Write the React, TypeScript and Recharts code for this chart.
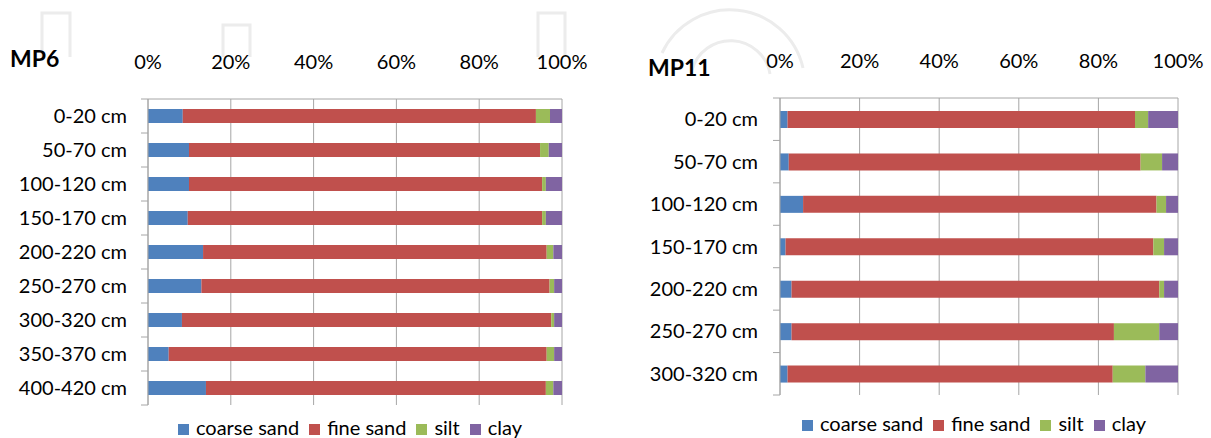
import React from "react";
import { Bar, BarChart, CartesianGrid, Legend, XAxis, YAxis } from "recharts";

const seriesKeys = ["coarse", "fine", "silt", "clay"];
const seriesNames = ["coarse sand", "fine sand", "silt", "clay"];
const seriesColors = ["#4F81BD", "#C0504D", "#9BBB59", "#8064A2"];
const percentTicks = [0, 0.2, 0.4, 0.6, 0.8, 1];

const mp6Depths = ["0-20 cm", "50-70 cm", "100-120 cm", "150-170 cm", "200-220 cm", "250-270 cm", "300-320 cm", "350-370 cm", "400-420 cm"];
const mp6Coarse = [8.4, 9.9, 9.9, 9.6, 13.3, 12.9, 8.2, 5.0, 14.0];
const mp6Fine = [85.3, 84.8, 85.3, 85.6, 83.0, 84.1, 89.2, 91.3, 82.1];
const mp6Silt = [3.4, 2.1, 0.9, 0.9, 1.6, 1.1, 0.7, 1.8, 1.8];
const mp6Clay = [2.9, 3.2, 3.9, 3.9, 2.1, 1.9, 1.9, 1.9, 2.1];

const mp11Depths = ["0-20 cm", "50-70 cm", "100-120 cm", "150-170 cm", "200-220 cm", "250-270 cm", "300-320 cm"];
const mp11Coarse = [1.9, 2.2, 5.8, 1.4, 2.9, 2.9, 1.9];
const mp11Fine = [87.3, 88.4, 88.8, 92.4, 92.4, 81.0, 81.7];
const mp11Silt = [3.3, 5.4, 2.4, 2.7, 1.2, 11.4, 8.2];
const mp11Clay = [7.5, 4.0, 3.0, 3.5, 3.5, 4.7, 8.2];

const FONT = "Lato, 'Noto Sans', sans-serif";
const GRID = "#a6a6a6";
const TEXT = "#000";

const toRows = (depths: string[], cols: number[][]) =>
  depths.map((depth, i) => {
    const row: Record<string, string | number> = { depth };
    seriesKeys.forEach((k, j) => (row[k] = cols[j][i]));
    return row;
  });

type PanelProps = {
  depths: string[];
  cols: number[][];
  width: number;
  axisWidth: number;
  plotTop: number;
  plotBottom: number;
  marginRight: number;
  barSize: number;
  labelGap: number;
  legendBottom: number;
};

const HEIGHT = 438;
const LEGEND_H = 24;
const XAXIS_H = 40;

function SoilPanel({ depths, cols, width, axisWidth, plotTop, plotBottom, marginRight, barSize, labelGap, legendBottom }: PanelProps) {
  const data = toRows(depths, cols);
  const band = (plotBottom - plotTop) / depths.length;
  const plotWidth = width - axisWidth - marginRight;

  // excel-style category ticks sit on the band edges, not the centres
  const DepthTick = (props: any) => {
    const { x, y, payload, index } = props;
    const half = band / 2;
    return (
      <g>
        <text x={x - labelGap} y={y} dy="0.35em" textAnchor="end" fill={TEXT} fontSize={20} fontFamily={FONT}>
          {payload.value}
        </text>
        <line x1={x - 7} x2={x} y1={y + half} y2={y + half} stroke={GRID} />
        {index === 0 && <line x1={x - 7} x2={x} y1={y - half} y2={y - half} stroke={GRID} />}
      </g>
    );
  };

  return (
    <BarChart
      width={width}
      height={HEIGHT}
      data={data}
      layout="vertical"
      stackOffset="expand"
      barSize={barSize}
      margin={{ top: plotTop - XAXIS_H, right: marginRight, left: 0, bottom: HEIGHT - plotBottom - LEGEND_H }}
    >
      <CartesianGrid horizontal={false} stroke={GRID} />
      <XAxis
        type="number"
        orientation="top"
        domain={[0, 1]}
        ticks={percentTicks}
        height={XAXIS_H}
        tickFormatter={(v: number) => `${Math.round(v * 100)}%`}
        axisLine={{ stroke: GRID }}
        tickLine={false}
        tickSize={0}
        tickMargin={30}
        tick={{ fill: TEXT, fontSize: 20, fontFamily: FONT }}
        interval={0}
      />
      <YAxis
        type="category"
        dataKey="depth"
        width={axisWidth}
        axisLine={{ stroke: GRID }}
        tickLine={false}
        tickSize={0}
        tickMargin={0}
        tick={DepthTick}
        interval={0}
      />
      <Legend
        verticalAlign="bottom"
        align="center"
        iconType="square"
        iconSize={11}
        itemSorter={(item: any) => seriesNames.indexOf(item.value)}
        wrapperStyle={{
          left: axisWidth,
          width: plotWidth,
          bottom: legendBottom,
          height: LEGEND_H,
          lineHeight: `${LEGEND_H}px`,
          fontSize: 20,
          fontFamily: FONT,
        }}
        formatter={(value: string) => <span style={{ color: TEXT, marginLeft: 3 }}>{value}</span>}
      />
      {seriesKeys.map((k, i) => (
        <Bar key={k} dataKey={k} name={seriesNames[i]} stackId="a" fill={seriesColors[i]} isAnimationActive={false} />
      ))}
    </BarChart>
  );
}

export default function App() {
  return (
    <div style={{ position: "absolute", left: 0, top: 0, width: 1211, height: HEIGHT, background: "#fff", overflow: "hidden" }}>
      <svg width={1211} height={HEIGHT} style={{ position: "absolute", left: 0, top: 0 }}>
        <g fill="none" stroke="#ececec" strokeWidth={3}>
          <path d="M42,57 V13 H70 V57" />
          <path d="M223,57 V25 H250 V57" />
          <path d="M538,57 V13 H565 V57" />
          <path d="M662,53 A75,75 0 0 1 803,68" />
          <path d="M692,70 A40,40 0 0 1 770,74" />
        </g>
        <text x={10} y={67} fontFamily={FONT} fontWeight={700} fontSize={23} fill={TEXT}>MP6</text>
        <text x={648} y={76} fontFamily={FONT} fontWeight={700} fontSize={23} fill={TEXT}>MP11</text>
      </svg>
      <div style={{ position: "absolute", left: 0, top: 0 }}>
        <SoilPanel
          depths={mp6Depths}
          cols={[mp6Coarse, mp6Fine, mp6Silt, mp6Clay]}
          width={600}
          axisWidth={148}
          plotTop={99}
          plotBottom={405}
          marginRight={38}
          barSize={14}
          labelGap={21}
          legendBottom={-1}
        />
      </div>
      <div style={{ position: "absolute", left: 620, top: 0 }}>
        <SoilPanel
          depths={mp11Depths}
          cols={[mp11Coarse, mp11Fine, mp11Silt, mp11Clay]}
          width={591}
          axisWidth={160}
          plotTop={98}
          plotBottom={395}
          marginRight={33}
          barSize={17}
          labelGap={22}
          legendBottom={3}
        />
      </div>
    </div>
  );
}
